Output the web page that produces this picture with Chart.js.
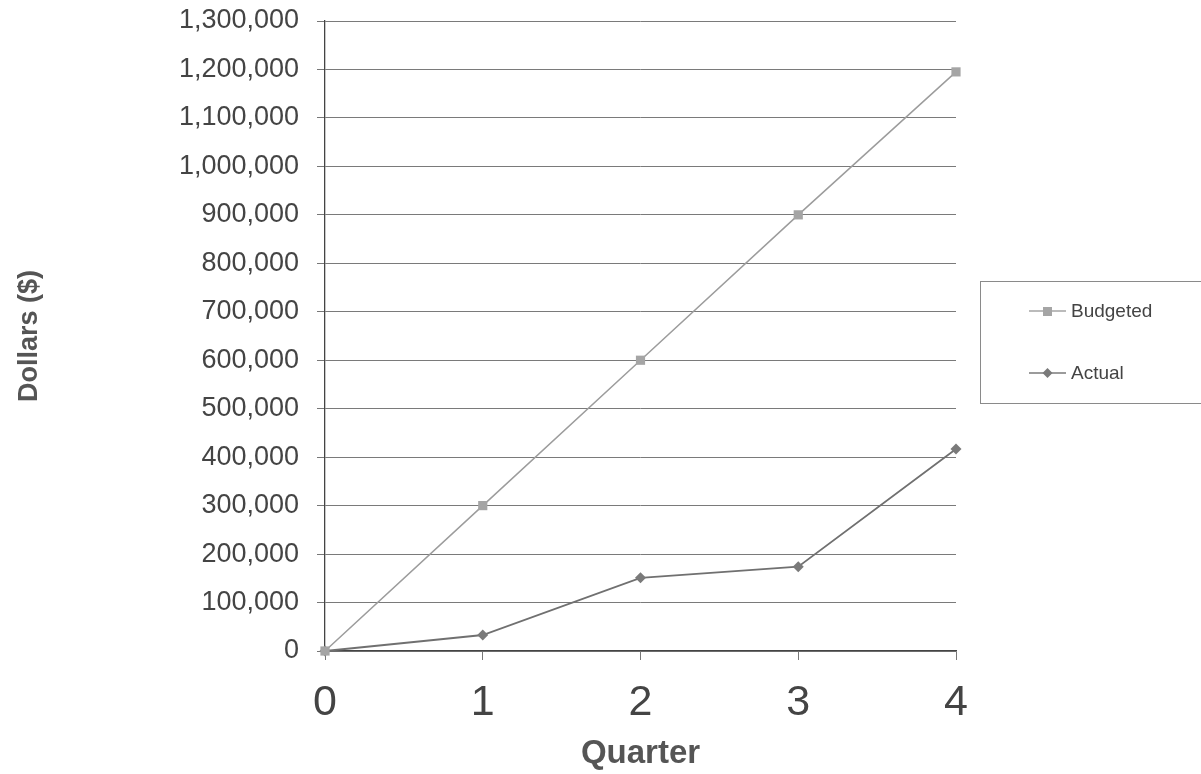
<!DOCTYPE html>
<html>
<head>
<meta charset="utf-8">
<script src="https://cdn.jsdelivr.net/npm/chart.js@4.4.1/dist/chart.umd.min.js"></script>
<style>
  html, body { margin: 0; padding: 0; background: #fff; }
  #wrap { position: relative; width: 1201px; height: 774px; }
  #legend {
    position: absolute; left: 980px; top: 281px; width: 240px; height: 121px;
    border: 1px solid #8a8a8a; background: #fff;
    font-family: "Liberation Sans", Arial, sans-serif; font-size: 19px; color: #444;
  }
  .item { position: absolute; left: 48px; display: flex; align-items: center; }
  .item canvas { margin-right: 5px; }
</style>
</head>
<body>
<div id="wrap">
  <canvas id="chart" width="1201" height="774"></canvas>
  <div id="legend">
    <div class="item" style="top: 18px;"><canvas id="lg-budget" width="37" height="22"></canvas>Budgeted</div>
    <div class="item" style="top: 80px;"><canvas id="lg-actual" width="37" height="22"></canvas>Actual</div>
  </div>
</div>
<script>
const quarters = [0, 1, 2, 3, 4];
const budgeted = [0, 300000, 600000, 900000, 1195000];
const actual = [0, 33000, 151000, 174000, 417000];

const budgetColor = '#9c9c9c';
const actualColor = '#707070';

// little legend swatches
function swatch(id, color, shape) {
    const c = document.getElementById(id).getContext('2d');
    c.strokeStyle = color; c.lineWidth = 1.5;
    c.beginPath(); c.moveTo(0, 11); c.lineTo(37, 11); c.stroke();
    c.fillStyle = color;
    if (shape === 'rect') { c.fillRect(14, 7, 9, 9); }
    else { c.beginPath(); c.moveTo(18.5, 6); c.lineTo(23.5, 11); c.lineTo(18.5, 16); c.lineTo(13.5, 11); c.closePath(); c.fill(); }
}
swatch('lg-budget', '#a5a5a5', 'rect');
swatch('lg-actual', '#7a7a7a', 'diamond');

const font = '"Liberation Sans", Arial, sans-serif';

new Chart(document.getElementById('chart'), {
    type: 'line',
    data: {
        datasets: [
            { label: 'Budgeted', data: quarters.map((q, i) => ({ x: q, y: budgeted[i] })), borderColor: budgetColor, backgroundColor: '#a5a5a5',
              borderWidth: 1.5, pointStyle: 'rect', pointRadius: 6.5, pointBorderWidth: 0, tension: 0, clip: false },
            { label: 'Actual', data: quarters.map((q, i) => ({ x: q, y: actual[i] })), borderColor: actualColor, backgroundColor: '#7a7a7a',
              borderWidth: 1.8, pointStyle: 'rectRot', pointRadius: 5.5, pointBorderWidth: 0, tension: 0, clip: false }
        ]
    },
    options: {
        responsive: false,
        animation: false,
        layout: { padding: { top: 21, right: 245, left: 0, bottom: 0 } },
        plugins: { legend: { display: false }, tooltip: { enabled: false } },
        scales: {
            x: {
                type: 'linear', min: 0, max: 4,
                ticks: { stepSize: 1, color: '#444', font: { family: font, size: 43 }, padding: 17 },
                grid: { drawOnChartArea: false, tickLength: 9, tickColor: '#777' },
                border: { color: '#444', width: 1.3 },
                title: { display: true, text: 'Quarter', color: '#555', font: { family: font, size: 33, weight: 'bold' }, padding: 0 },
                afterFit: s => { s.height = 123; s.paddingLeft = 0; s.paddingRight = 0; }
            },
            y: {
                min: 0, max: 1300000,
                ticks: { stepSize: 100000, color: '#444', font: { family: font, size: 27 }, padding: 18,
                         callback: v => v.toLocaleString('en-US') },
                grid: { color: '#7a7a7a', lineWidth: 1, tickLength: 8, tickColor: '#777' },
                border: { color: '#444', width: 1.3 },
                title: { display: true, text: 'Dollars ($)', color: '#555', font: { family: font, size: 27, weight: 'bold' }, padding: { top: 13 } },
                afterFit: s => { s.width = 325; s.paddingTop = 0; s.paddingBottom = 0; }
            }
        }
    }
});
</script>
</body>
</html>
